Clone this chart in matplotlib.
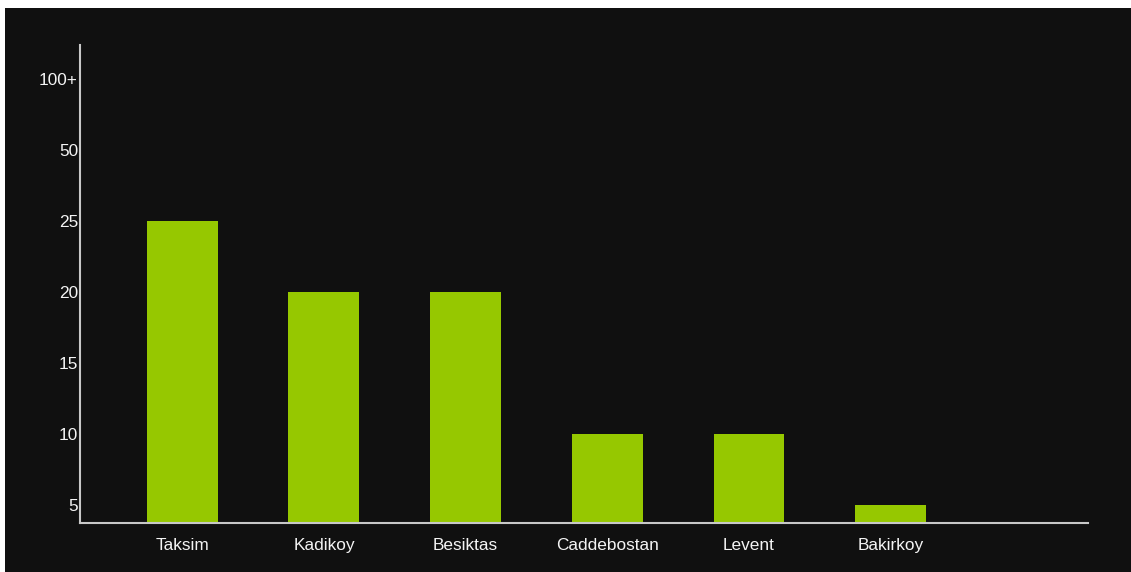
import matplotlib
matplotlib.use("Agg")
from matplotlib import pyplot as plt
from matplotlib.patches import Rectangle
import numpy as np

plt.rcParams['font.family'] = ['Liberation Sans', 'DejaVu Sans']

districts = ['Taksim', 'Kadikoy', 'Besiktas', 'Caddebostan', 'Levent', 'Bakirkoy']
counts = [25, 20, 20, 10, 10, 5]
tick_values = [5, 10, 15, 20, 25, 50, 100]
tick_labels = ['5', '10', '15', '20', '25', '50', '100+']

bg = '#101010'
bar_color = '#96c800'
axis_color = '#c8c8c8'
text_color = '#f4f4f4'

fig = plt.figure(figsize=(11.31, 5.72), dpi=100, facecolor='white')
# dark panel, leaving the thin white strips at top and left
fig.patches.append(Rectangle((5 / 1131, 0), 1, 1 - 8 / 572, transform=fig.transFigure,
                             facecolor=bg, edgecolor='none', zorder=-1))

ax = fig.add_axes([80 / 1131, 1 - 523 / 572, (1088 - 80) / 1131, (523 - 45) / 572])
ax.set_facecolor(bg)

# the y axis is evenly spaced by tick, not by value
tick_pos = np.arange(1, len(tick_values) + 1)
heights = np.interp(counts, tick_values, tick_pos)
bottom = 0.7465

x = np.arange(len(districts))
ax.bar(x, heights - bottom, bottom=bottom, width=0.5, color=bar_color)

ax.set_xlim(-0.721, 6.392)
ax.set_ylim(bottom, 7.479)
ax.set_xticks(x)
ax.set_xticklabels(districts)
ax.set_yticks(tick_pos)
ax.set_yticklabels(tick_labels)

ax.tick_params(axis='x', length=0, pad=11, colors=text_color, labelsize=12.4)
ax.tick_params(axis='y', length=0, pad=1.5, colors=text_color, labelsize=12.4)

for side in ['top', 'right']:
    ax.spines[side].set_visible(False)
for side in ['left', 'bottom']:
    ax.spines[side].set_color(axis_color)
    ax.spines[side].set_linewidth(1.5)

fig.savefig('out.png', dpi=100, facecolor=fig.get_facecolor())
